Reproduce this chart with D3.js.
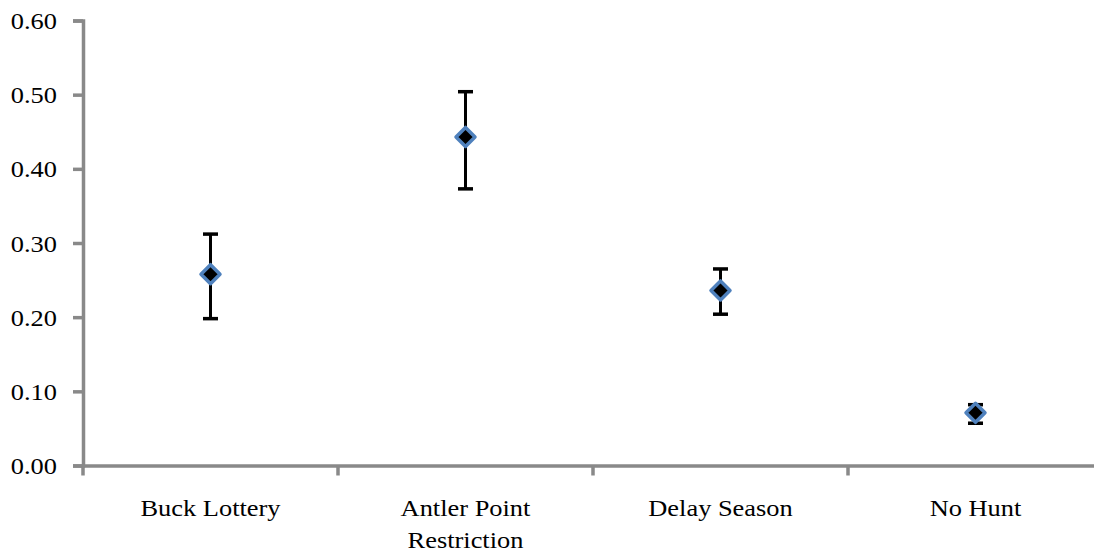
<!DOCTYPE html>
<html><head><meta charset="utf-8">
<script src="https://cdn.jsdelivr.net/npm/d3@7"></script>
<style>body{margin:0;background:#fff}svg{display:block}
svg text{font-family:"Liberation Serif","Times New Roman",serif;}</style>
</head><body>
<svg id="c" width="1094" height="555"></svg>
<script>
(function(){
const categories = ["Buck Lottery", "Antler Point Restriction", "Delay Season", "No Hunt"];
const categoryLines = [["Buck Lottery"], ["Antler Point", "Restriction"], ["Delay Season"], ["No Hunt"]];
const means = [0.258, 0.443, 0.236, 0.071];
const upper = [0.312, 0.504, 0.265, 0.082];
const lower = [0.198, 0.373, 0.204, 0.057];
const yTicks = [0, 0.1, 0.2, 0.3, 0.4, 0.5, 0.6];

const svg = d3.select("#c");
const mLeft = 83, mRight = 1103, mTop = 20.5, mBottom = 465.5;
const x = d3.scaleBand().domain(categories).range([mLeft, mRight]);
const y = d3.scaleLinear().domain([0, 0.6]).range([mBottom, mTop]);
const axisColor = "#898989";
const fs = 24, sx = 1.1;

const ya = svg.append("g").attr("transform", `translate(${mLeft},0)`)
  .call(d3.axisLeft(y).tickValues(yTicks).tickFormat(d3.format(".2f")).tickSize(10).tickPadding(16));
ya.attr("font-family", null).attr("font-size", null);
ya.select(".domain").attr("stroke", axisColor).attr("stroke-width", 3.5);
ya.selectAll(".tick line").attr("stroke", axisColor).attr("stroke-width", 3.5);
ya.selectAll(".tick text").style("font-size", fs + "px").attr("fill", "#000")
  .attr("x", null).attr("dy", null)
  .attr("transform", `translate(-26,8) scale(${sx},1)`);

const xa = svg.append("g").attr("transform", `translate(0,${mBottom})`)
  .call(d3.axisBottom(x).tickSize(0).tickFormat(""));
xa.select(".domain").attr("stroke", axisColor).attr("stroke-width", 3.5);
const bounds = categories.map(c => x(c)).concat([mRight]);
xa.selectAll(".sep").data(bounds).join("line").attr("class", "sep")
  .attr("x1", d => d).attr("x2", d => d).attr("y1", 0).attr("y2", 10)
  .attr("stroke", axisColor).attr("stroke-width", 3.5);

const lab = svg.append("g");
categories.forEach((c, i) => {
  const t = lab.append("text")
    .attr("transform", `translate(${x(c) + x.bandwidth() / 2},516) scale(${sx},1)`)
    .attr("text-anchor", "middle").style("font-size", fs + "px").attr("fill", "#000");
  categoryLines[i].forEach((ln, j) => {
    t.append("tspan").attr("x", 0).attr("dy", j === 0 ? 0 : 32).text(ln);
  });
});

const g = svg.append("g");
const cx = i => x(categories[i]) + x.bandwidth() / 2;
categories.forEach((c, i) => {
  g.append("line").attr("x1", cx(i)).attr("x2", cx(i)).attr("y1", y(upper[i])).attr("y2", y(lower[i]))
    .attr("stroke", "#000").attr("stroke-width", 3);
  [upper[i], lower[i]].forEach(v => {
    g.append("line").attr("x1", cx(i) - 7.5).attr("x2", cx(i) + 7.5).attr("y1", y(v)).attr("y2", y(v))
      .attr("stroke", "#000").attr("stroke-width", 3.5);
  });
});
const r = 9.5;
g.selectAll("path.m").data(means).join("path").attr("class", "m")
  .attr("d", (d, i) => `M${cx(i)},${y(d) - r}L${cx(i) + r},${y(d)}L${cx(i)},${y(d) + r}L${cx(i) - r},${y(d)}Z`)
  .attr("fill", "#000").attr("stroke", "#4F81BD").attr("stroke-width", 3.5).attr("stroke-linejoin", "round");
})();
</script>
</body></html>
